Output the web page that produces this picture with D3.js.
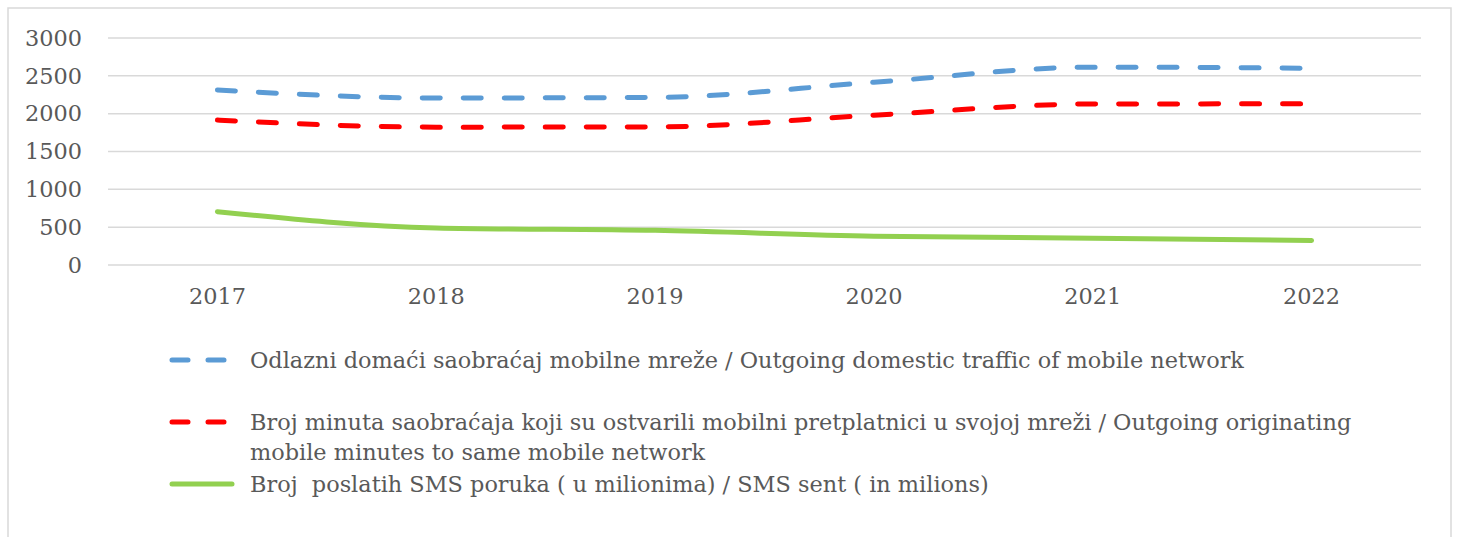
<!DOCTYPE html>
<html><head><meta charset="utf-8">
<script src="https://cdn.jsdelivr.net/npm/d3@7"></script>
<style>body{margin:0;background:#fff}svg{display:block}</style>
</head><body>
<svg id="c" width="1458" height="537"></svg>
<script>
const years = ["2017","2018","2019","2020","2021","2022"];
const outgoingDomestic = [2313, 2207, 2215, 2415, 2615, 2600];
const sameNetwork = [1916, 1822, 1825, 1980, 2128, 2130];
const smsSent = [705, 490, 458, 380, 355, 323];
const yTicks = [0, 500, 1000, 1500, 2000, 2500, 3000];
const legendLabels = [
  ["Odlazni domaći saobraćaj mobilne mreže / Outgoing domestic traffic of mobile network"],
  ["Broj minuta saobraćaja koji su ostvarili mobilni pretplatnici u svojoj mreži / Outgoing originating", "mobile minutes to same mobile network"],
  ["Broj  poslatih SMS poruka ( u milionima) / SMS sent ( in milions)"]
];

const series = [
  {values: outgoingDomestic, color: "#5b9bd5", dash: "18,23"},
  {values: sameNetwork, color: "#ff0000", dash: "18,23"},
  {values: smsSent, color: "#92d050", dash: null}
];

const svg = d3.select("#c");
const font = "'DejaVu Serif', serif";
const textColor = "#595959";
const fs = 22.4;

svg.append("rect").attr("x",8).attr("y",8).attr("width",1443).attr("height",600)
  .attr("fill","#fff").attr("stroke","#d9d9d9").attr("stroke-width",1.5);

const x = d3.scaleBand().domain(years).range([108, 1421]).padding(0);
const y = d3.scaleLinear().domain([0, 3000]).range([265, 38]);

// gridlines
svg.append("g").selectAll("line").data(yTicks).join("line")
  .attr("x1",108).attr("x2",1421)
  .attr("y1",d=>y(d)).attr("y2",d=>y(d))
  .attr("stroke","#d9d9d9").attr("stroke-width",1.5);

// y axis
const yAxis = svg.append("g").attr("transform","translate(90,0)")
  .call(d3.axisLeft(y).tickValues(yTicks).tickSize(0).tickPadding(8).tickFormat(d3.format("d")));
yAxis.select(".domain").remove();
yAxis.selectAll("text").attr("font-family",font).attr("font-size",fs).attr("fill",textColor);

// x axis
const xAxis = svg.append("g").attr("transform","translate(0,278)")
  .call(d3.axisBottom(x).tickSize(0).tickPadding(10));
xAxis.select(".domain").remove();
xAxis.selectAll("text").attr("font-family",font).attr("font-size",fs).attr("fill",textColor);

const line = d3.line()
  .x((d,i)=>x(years[i]) + x.bandwidth()/2)
  .y(d=>y(d))
  .curve(d3.curveMonotoneX);

series.forEach(s=>{
  svg.append("path").attr("d", line(s.values))
    .attr("fill","none").attr("stroke",s.color).attr("stroke-width",5)
    .attr("stroke-linecap","round")
    .attr("stroke-dasharray", s.dash);
});

// legend
const legendY = [360, 422, 484];
series.forEach((s,i)=>{
  svg.append("line").attr("x1",172).attr("x2",232)
    .attr("y1",legendY[i]).attr("y2",legendY[i])
    .attr("stroke",s.color).attr("stroke-width",5).attr("stroke-linecap","round")
    .attr("stroke-dasharray", s.dash ? "16,20" : null);
  legendLabels[i].forEach((t,j)=>{
    svg.append("text").attr("x",250).attr("y",legendY[i] + j*30)
      .attr("dy","0.35em").attr("font-family",font).attr("font-size",fs)
      .attr("fill",textColor).style("white-space","pre").text(t);
  });
});
</script>
</body></html>
